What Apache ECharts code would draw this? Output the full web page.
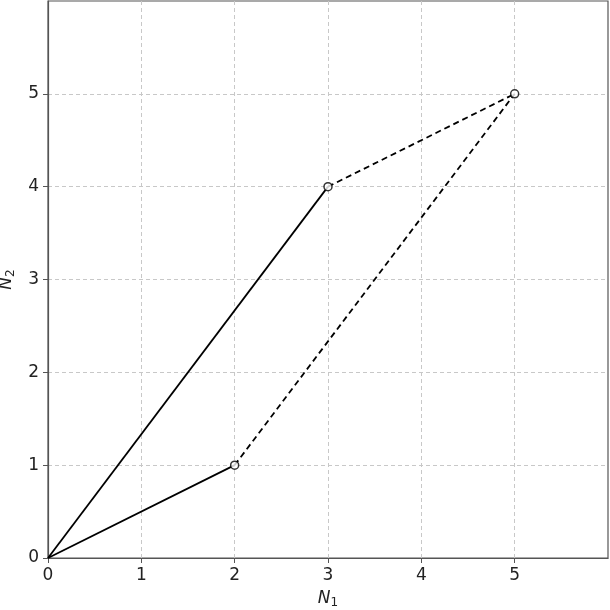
<!DOCTYPE html>
<html>
<head>
<meta charset="utf-8">
<script src="https://cdn.jsdelivr.net/npm/echarts@6/dist/echarts.min.js"></script>
<style>
  html, body { margin: 0; padding: 0; background: #fff; }
  #chart { width: 610px; height: 610px; }
</style>
</head>
<body>
<div id="chart"></div>
<script>
// two paths from origin to (5,5): first leg solid, second leg dashed
const pathAx = [0, 3, 5];
const pathAy = [0, 4, 5];
const pathBx = [0, 2, 5];
const pathBy = [0, 1, 5];
const tickValues = [0, 1, 2, 3, 4, 5];

const chart = echarts.init(document.getElementById("chart"));

function legs(xs, ys) {
  const pts = xs.map((x, i) => [x, ys[i]]);
  return [
    { data: pts.slice(0, 2), type: "solid" },
    { data: pts.slice(1, 3), type: "dashed" },
  ];
}

const lineSeries = [];
[legs(pathAx, pathAy), legs(pathBx, pathBy)].forEach((pair) => {
  pair.forEach((leg) => {
    lineSeries.push({
      type: "line",
      data: leg.data,
      showSymbol: false,
      symbol: "none",
      lineStyle: { color: "#000", width: 1.8, type: leg.type === "dashed" ? [6, 4] : "solid" },
      z: 3,
    });
  });
});

// markers at every vertex except the origin
const markerPts = [];
[[pathAx, pathAy], [pathBx, pathBy]].forEach(([xs, ys]) => {
  xs.forEach((x, i) => {
    if (i > 0 && !markerPts.some((p) => p[0] === x && p[1] === ys[i])) markerPts.push([x, ys[i]]);
  });
});

const nameRich = {
  i: { fontStyle: "italic", fontSize: 17, fontFamily: "DejaVu Sans", color: "#222" },
  s: { fontSize: 12, fontFamily: "DejaVu Sans", color: "#222", verticalAlign: "bottom", padding: [9, 0, 0, 0] },
};

const axisCommon = {
  type: "value",
  min: 0,
  max: 6,
  interval: 1,
  axisLine: { show: true, lineStyle: { color: "#555", width: 1.2 } },
  axisTick: { show: true, length: 5, inside: false, customValues: tickValues, lineStyle: { color: "#555" } },
  axisLabel: {
    color: "#222",
    fontSize: 17,
    fontFamily: "DejaVu Sans",
    margin: 9,
    customValues: tickValues,
  },
  splitLine: { show: true, lineStyle: { color: "#c8c8c8", type: [4, 3], width: 1 } },
  nameLocation: "middle",
};

const option = {
  animation: false,
  grid: {
    left: 48, top: 1, right: 2, bottom: 52,
    outerBoundsMode: "none",
    containLabel: false,
    show: true, borderColor: "#555", borderWidth: 1.2,
  },
  xAxis: Object.assign({}, axisCommon, {
    name: "{i|N}{s|1}",
    nameGap: 30,
    nameTextStyle: { rich: nameRich },
  }),
  yAxis: Object.assign({}, axisCommon, {
    name: "{i|N}{s|2}",
    nameGap: 30,
    nameTextStyle: { rich: nameRich },
  }),
  series: lineSeries.concat([
    {
      type: "scatter",
      data: markerPts,
      symbol: "circle",
      symbolSize: 8,
      itemStyle: { color: "#fff", borderColor: "#000", borderWidth: 1.5 },
      z: 5,
    },
  ]),
};

chart.setOption(option);
</script>
</body>
</html>
